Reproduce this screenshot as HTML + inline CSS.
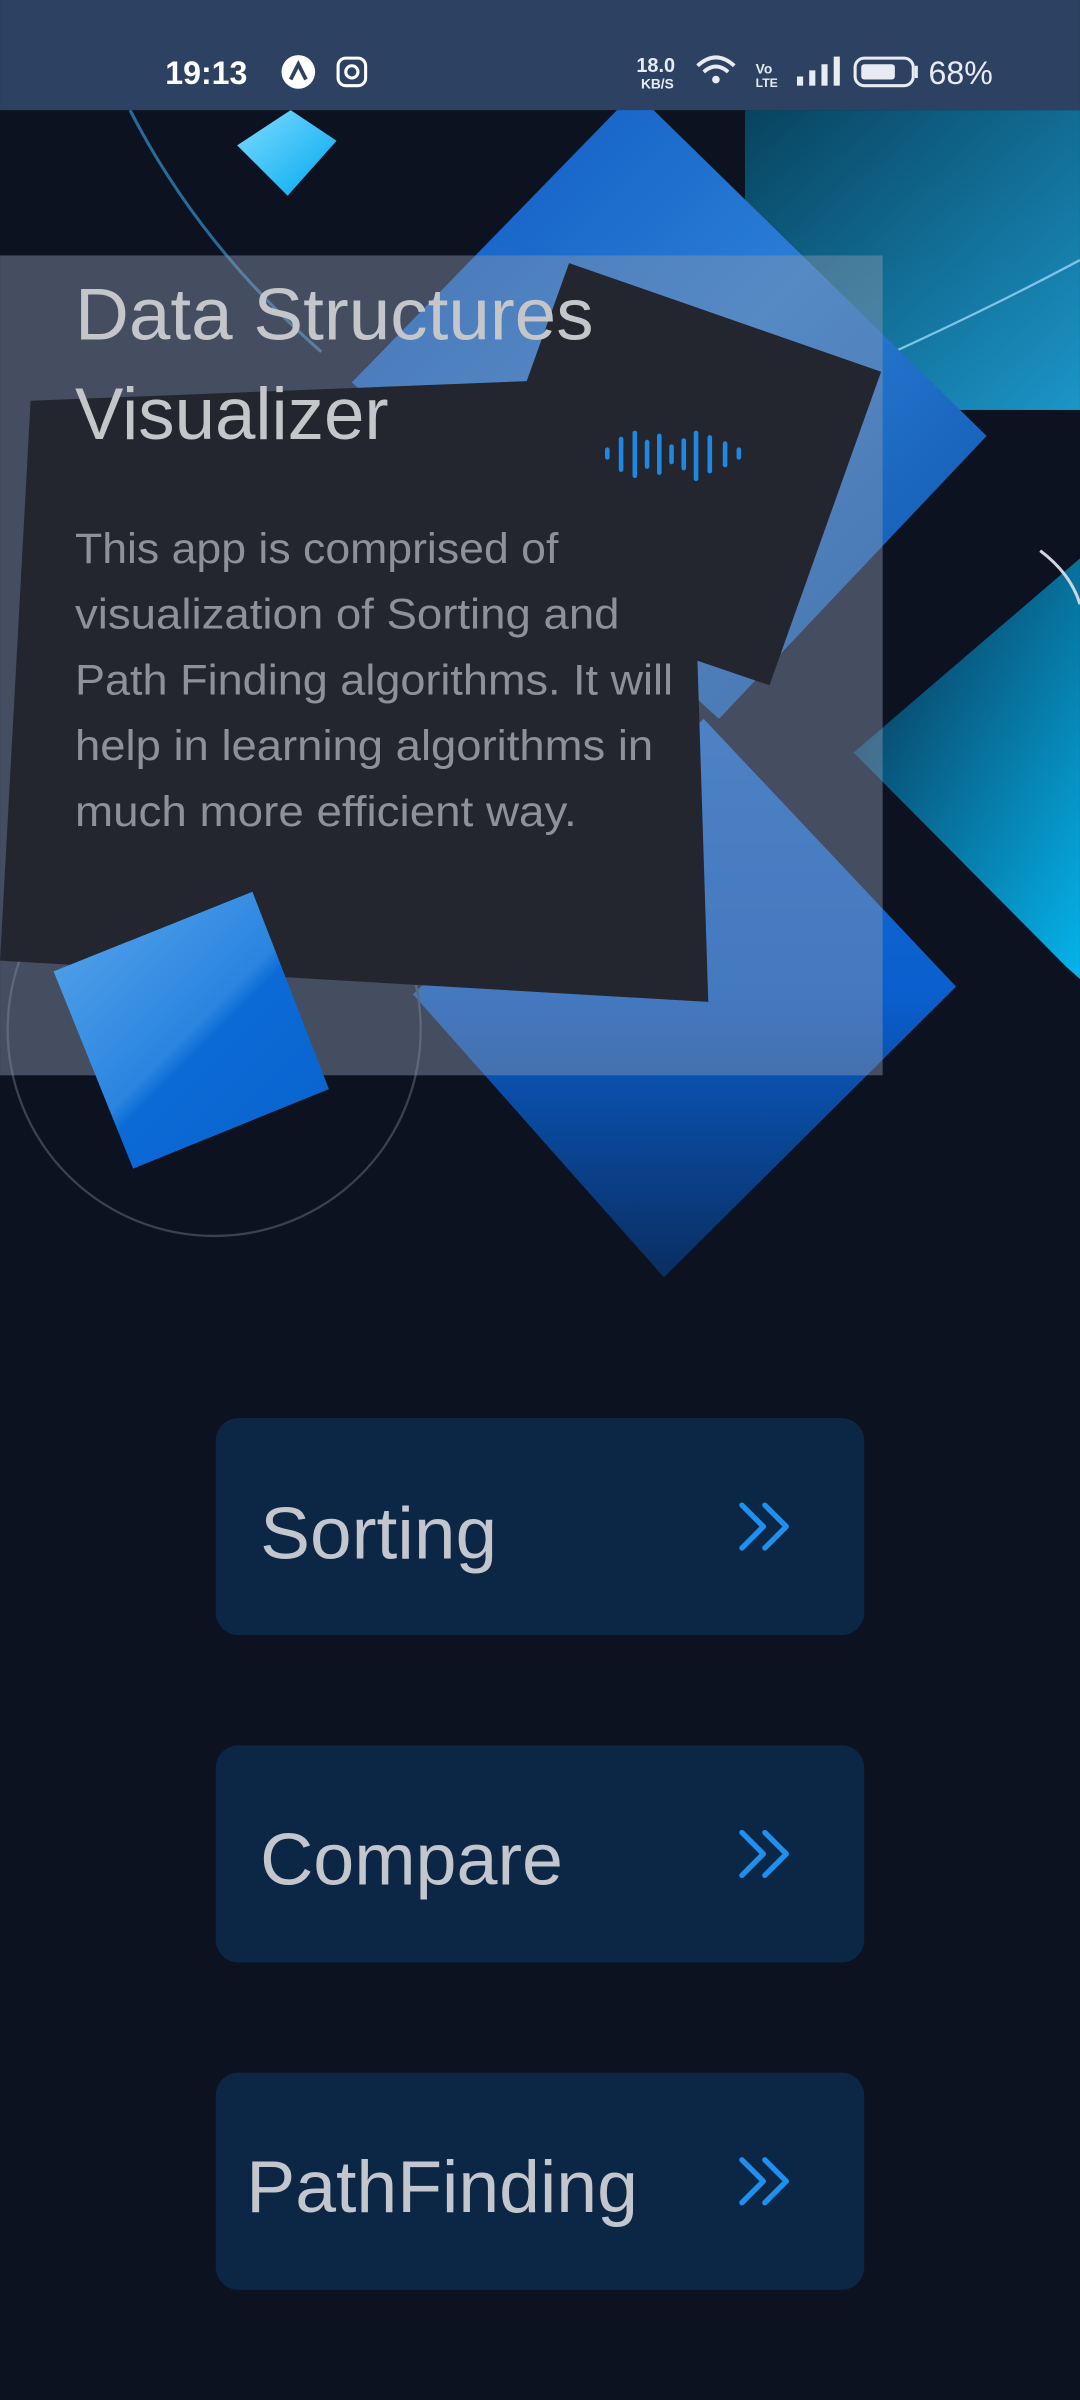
<!DOCTYPE html>
<html><head><meta charset="utf-8"><style>
html,body{margin:0;padding:0;background:#0c1220;}
svg{display:block}
</style></head><body>
<svg width="1080" height="2400" viewBox="0 0 706 1569" xmlns="http://www.w3.org/2000/svg" font-family="Liberation Sans, sans-serif">
<defs>
<linearGradient id="gb" x1="0" y1="0" x2="1" y2="1"><stop offset="0" stop-color="#0a55c0"/><stop offset="0.5" stop-color="#2a7ed6"/><stop offset="1" stop-color="#0b4fa8"/></linearGradient>
<linearGradient id="gb2" x1="0" y1="0" x2="0" y2="1"><stop offset="0" stop-color="#1a6fd6"/><stop offset="0.5" stop-color="#0a5ecd"/><stop offset="1" stop-color="#0a2e60"/></linearGradient>
<linearGradient id="gt" x1="0" y1="0" x2="1" y2="1"><stop offset="0" stop-color="#08435f"/><stop offset="1" stop-color="#1b95c8"/></linearGradient>
<linearGradient id="gt2" x1="0" y1="0" x2="1" y2="1"><stop offset="0" stop-color="#0a2b48"/><stop offset="1" stop-color="#05b4ec"/></linearGradient>
<linearGradient id="gs" x1="0" y1="0" x2="1" y2="1"><stop offset="0" stop-color="#5aa6ea"/><stop offset="0.5" stop-color="#2a85e0"/><stop offset="0.55" stop-color="#0b6ad6"/><stop offset="1" stop-color="#0a62cc"/></linearGradient>
<linearGradient id="gc" x1="0" y1="0" x2="1" y2="1"><stop offset="0" stop-color="#7fdcff"/><stop offset="1" stop-color="#00a8f0"/></linearGradient>
</defs>
<rect width="706" height="1569" fill="#0c1220"/>
<rect x="487" y="72" width="219" height="196" fill="url(#gt)"/>
<path d="M580 232 Q650 200 706 170" stroke="#7fc4e6" stroke-width="1.5" fill="none"/>
<path d="M85 72 Q130 160 210 230" stroke="#2a6a9a" stroke-width="2" fill="none"/>
<polygon points="415,60 645,285 470,470 230,250" fill="url(#gb)"/>
<polygon points="460,470 625,645 434,835 270,650" fill="url(#gb2)"/>
<polygon points="558,492 706,365 706,640 697,632" fill="url(#gt2)"/>
<path d="M680 360 Q700 375 706 395" stroke="#cfd6e0" stroke-width="2" fill="none"/>
<circle cx="140" cy="673" r="135" stroke="#3a4150" stroke-width="1.5" fill="none"/>
<rect x="0" y="167" width="577" height="536" fill="#8c98b0" fill-opacity="0.45"/>
<polygon points="20,262 450,245 463,655 0,628" fill="#23262e"/>
<polygon points="372,172 576,243 503,448 298,378" fill="#23262e"/>
<polygon points="155,95 190,72 220,92 188,128" fill="url(#gc)"/>
<polygon points="35,635 165,583 215,712 87,764" fill="url(#gs)"/>
<g stroke="#1e88e5" stroke-width="3" stroke-linecap="round">
<line x1="397" y1="294" x2="397" y2="299"/><line x1="406" y1="287" x2="406" y2="307"/>
<line x1="415" y1="283" x2="415" y2="311"/><line x1="423" y1="289" x2="423" y2="305"/>
<line x1="431" y1="285" x2="431" y2="309"/><line x1="439" y1="292" x2="439" y2="302"/>
<line x1="447" y1="288" x2="447" y2="306"/><line x1="455" y1="283" x2="455" y2="313"/>
<line x1="464" y1="286" x2="464" y2="308"/><line x1="474" y1="290" x2="474" y2="304"/>
<line x1="483" y1="294" x2="483" y2="299"/>
</g>
<text x="49" y="222" font-size="48" fill="#c4c6ca" textLength="339" lengthAdjust="spacingAndGlyphs">Data Structures</text>
<text x="49" y="287" font-size="48" fill="#c4c6ca" textLength="205" lengthAdjust="spacingAndGlyphs">Visualizer</text>
<g font-size="28" fill="#8e9198">
<text x="49" y="368" textLength="316" lengthAdjust="spacingAndGlyphs">This app is comprised of</text>
<text x="49" y="411" textLength="356" lengthAdjust="spacingAndGlyphs">visualization of Sorting and</text>
<text x="49" y="454" textLength="391" lengthAdjust="spacingAndGlyphs">Path Finding algorithms. It will</text>
<text x="49" y="497" textLength="378" lengthAdjust="spacingAndGlyphs">help in learning algorithms in</text>
<text x="49" y="540" textLength="328" lengthAdjust="spacingAndGlyphs">much more efficient way.</text>
</g>
<rect width="706" height="72" fill="#2d4262"/>
<text x="108" y="55" font-size="21" font-weight="bold" fill="#fff">19:13</text>
<circle cx="195" cy="47" r="11" fill="#fff"/>
<path d="M190 52 L195 42 L200 52" stroke="#2d4262" stroke-width="2.5" fill="none"/>
<rect x="221" y="38" width="18" height="18" rx="5" stroke="#fff" stroke-width="2" fill="none"/>
<circle cx="230" cy="47" r="4" stroke="#fff" stroke-width="2" fill="none"/>
<text x="416" y="47" font-size="13" font-weight="bold" fill="#e8ecf2">18.0</text>
<text x="419" y="58" font-size="9" font-weight="bold" fill="#e8ecf2">KB/S</text>
<path d="M456 43 Q468 32 480 43 M460 47 Q468 40 476 47" stroke="#e8ecf2" stroke-width="2.5" fill="none"/>
<circle cx="468" cy="52" r="2.5" fill="#e8ecf2"/>
<text x="494" y="48" font-size="9" font-weight="bold" fill="#e8ecf2">Vo</text>
<text x="494" y="57" font-size="8" font-weight="bold" fill="#e8ecf2">LTE</text>
<rect x="521" y="50" width="4" height="6" fill="#e8ecf2"/><rect x="529" y="46" width="4" height="10" fill="#e8ecf2"/>
<rect x="537" y="42" width="4" height="14" fill="#e8ecf2"/><rect x="545" y="37" width="4" height="19" fill="#e8ecf2"/>
<rect x="559" y="38" width="38" height="18" rx="6" stroke="#e8ecf2" stroke-width="2" fill="none"/>
<rect x="563" y="42" width="22" height="10" rx="2" fill="#e8ecf2"/>
<rect x="598" y="43" width="2" height="8" fill="#e8ecf2"/>
<text x="607" y="55" font-size="21" fill="#e8ecf2">68%</text>
<g>
<rect x="141" y="927" width="424" height="142" rx="15" fill="#0c2745"/>
<text x="170" y="1019" font-size="48" fill="#c3c6cc" textLength="155" lengthAdjust="spacingAndGlyphs">Sorting</text>
<path d="M485 984 L499 998 L485 1012 M500 984 L514 998 L500 1012" stroke="#1f8ff0" stroke-width="3.5" stroke-linecap="round" stroke-linejoin="round" fill="none"/>
<rect x="141" y="1141" width="424" height="142" rx="15" fill="#0c2745"/>
<text x="170" y="1232" font-size="48" fill="#c3c6cc" textLength="198" lengthAdjust="spacingAndGlyphs">Compare</text>
<path d="M485 1198 L499 1212 L485 1226 M500 1198 L514 1212 L500 1226" stroke="#1f8ff0" stroke-width="3.5" stroke-linecap="round" stroke-linejoin="round" fill="none"/>
<rect x="141" y="1355" width="424" height="142" rx="15" fill="#0c2745"/>
<text x="161" y="1446" font-size="48" fill="#c3c6cc" textLength="256" lengthAdjust="spacingAndGlyphs">PathFinding</text>
<path d="M485 1412 L499 1426 L485 1440 M500 1412 L514 1426 L500 1440" stroke="#1f8ff0" stroke-width="3.5" stroke-linecap="round" stroke-linejoin="round" fill="none"/>
</g>
</svg>
</body></html>
